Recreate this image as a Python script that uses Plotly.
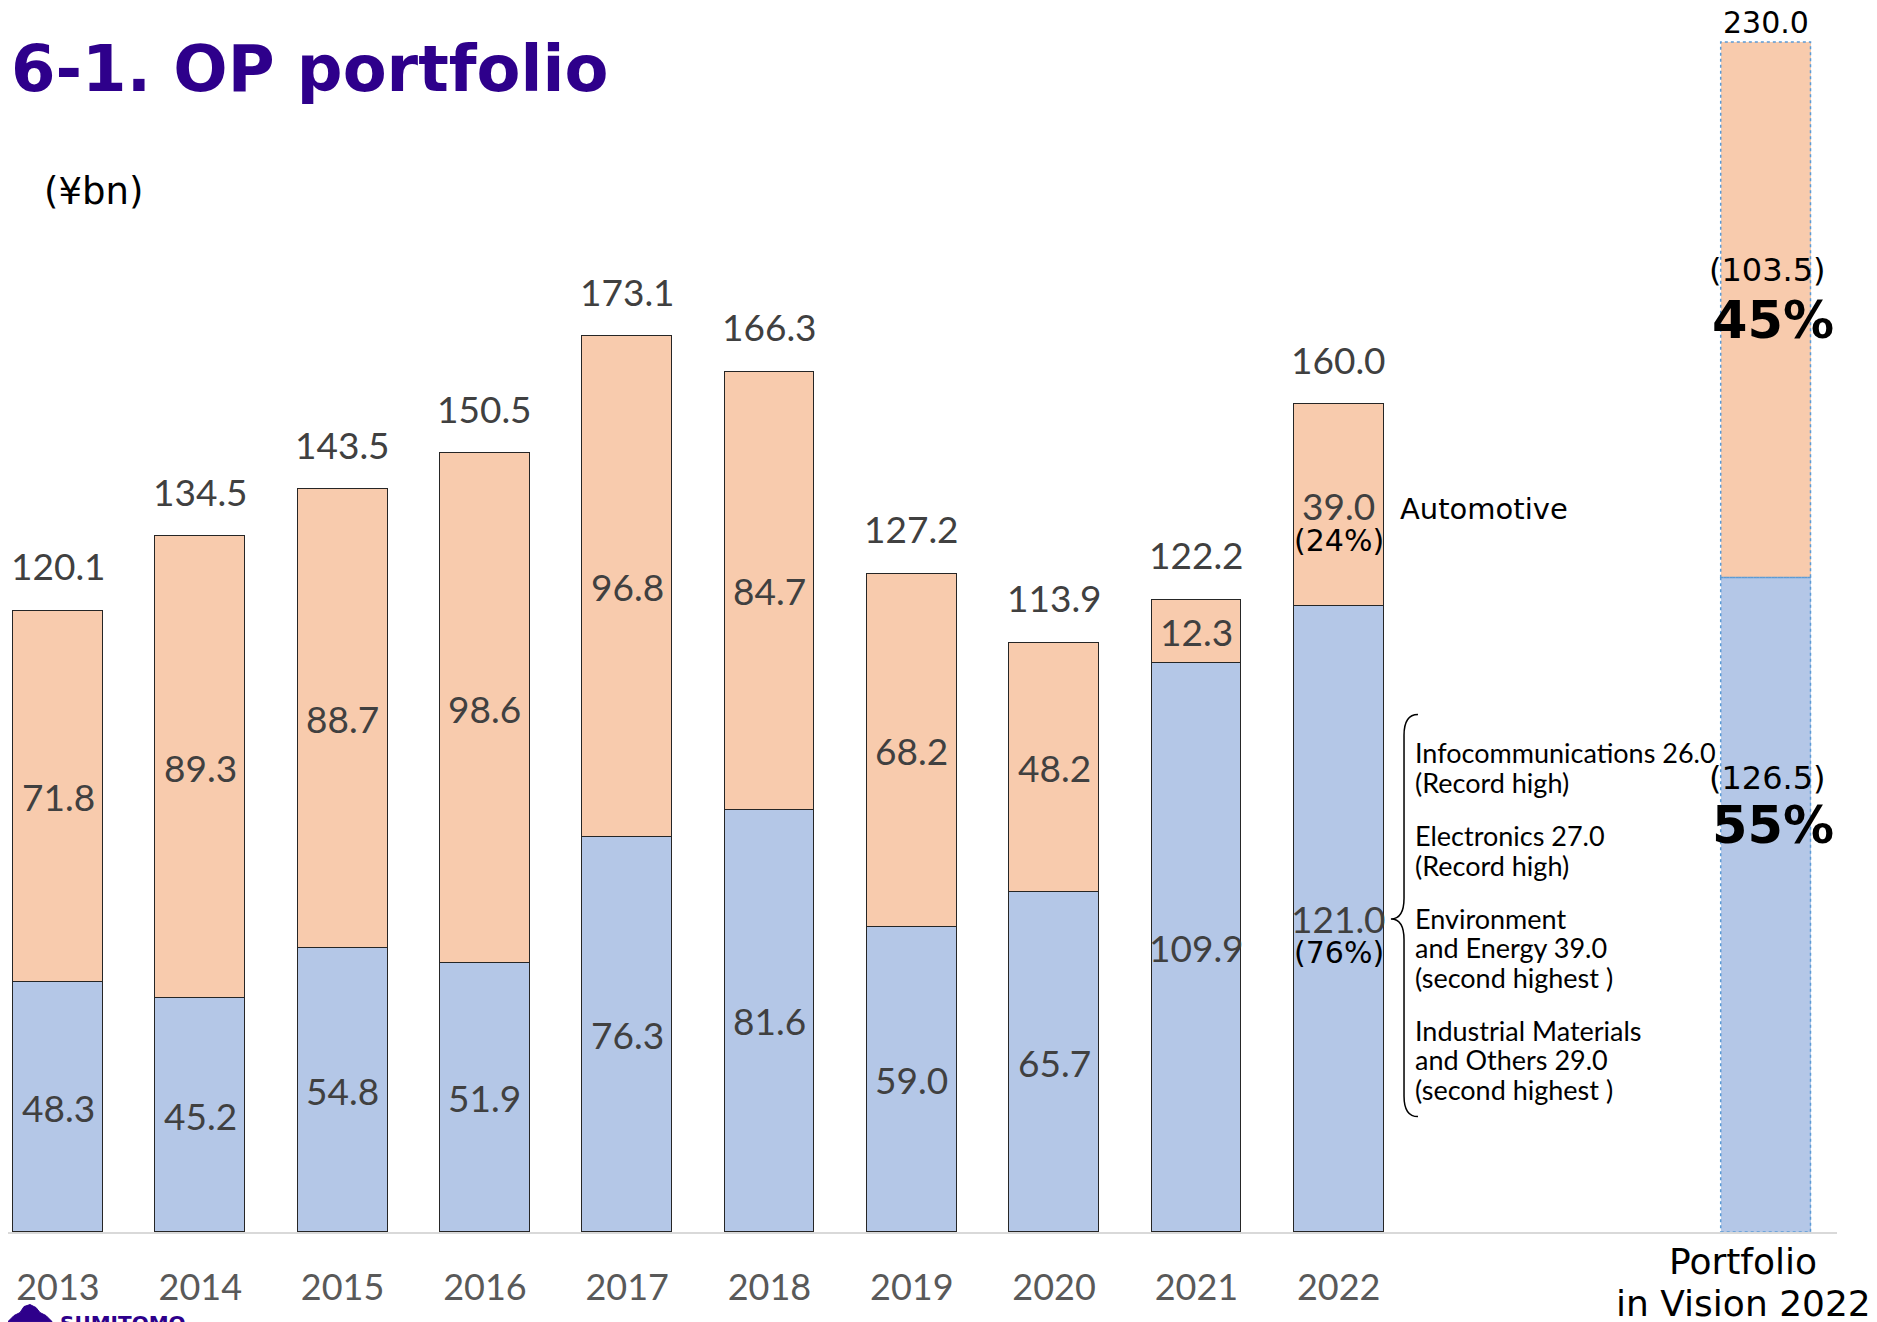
import plotly.graph_objects as go

# ---------------- data ----------------
years = ["2013", "2014", "2015", "2016", "2017", "2018", "2019", "2020", "2021", "2022"]
non_auto = [48.3, 45.2, 54.8, 51.9, 76.3, 81.6, 59.0, 65.7, 109.9, 121.0]
automotive = [71.8, 89.3, 88.7, 98.6, 96.8, 84.7, 68.2, 48.2, 12.3, 39.0]
totals = [120.1, 134.5, 143.5, 150.5, 173.1, 166.3, 127.2, 113.9, 122.2, 160.0]

vision_label = ["Portfolio", "in Vision 2022"]
vision_non_auto = 126.5
vision_auto = 103.5
vision_total = 230.0
vision_pct = ["55%", "45%"]
pct_2022 = ["(76%)", "(24%)"]

breakdown = [
    ["Infocommunications 26.0", "(Record high)"],
    ["Electronics 27.0", "(Record high)"],
    ["Environment", "and Energy 39.0", "(second highest )"],
    ["Industrial Materials", "and Others 29.0", "(second highest )"],
]

# ---------------- geometry helpers ----------------
OFF = 8                      # page body margin of the html page
W, H = 1877 - OFF, 1322 - OFF
BASE = 1232.4 - OFF          # baseline in figure pixels
ML, MR, MT = 0, 40, 0
MB = H - BASE
PW, PH = W - ML - MR, BASE - MT
UNIT = 5.176                 # pixels per ¥bn
STEP = 142.3                 # pixels per category
X0 = 58 - OFF                # figure pixel of category 0


def pxx(x):  # page pixel x -> paper
    return (x - OFF - ML) / PW


def pyy(y):  # page pixel y -> paper
    return (BASE - (y - OFF)) / PH


x_year = list(range(len(years)))
x_vision = 12
bar_w = 0.631

BLUE = "#B4C7E7"
ORANGE = "#F8CBAD"
NUM_FONT = "Lato, 'Noto Sans', sans-serif"
VER_FONT = "'DejaVu Sans', Verdana, sans-serif"
NUM_COL = "#404040"

fig = go.Figure()
fig.add_bar(x=x_year, y=non_auto, width=bar_w, marker=dict(color=BLUE, line=dict(color="#262626", width=1)),
            showlegend=False, hoverinfo="skip")
fig.add_bar(x=x_year, y=automotive, width=bar_w, marker=dict(color=ORANGE, line=dict(color="#262626", width=1)),
            showlegend=False, hoverinfo="skip")
fig.add_bar(x=[x_vision], y=[vision_non_auto], width=bar_w, marker=dict(color=BLUE, line=dict(width=0)),
            showlegend=False, hoverinfo="skip")
fig.add_bar(x=[x_vision], y=[vision_auto], width=bar_w, marker=dict(color=ORANGE, line=dict(width=0)),
            showlegend=False, hoverinfo="skip")

ann = []


def add(**kw):
    kw.setdefault("showarrow", False)
    kw.setdefault("xanchor", "center")
    kw.setdefault("yanchor", "middle")
    ann.append(kw)


# segment labels and totals
for i, yr in enumerate(years):
    add(x=x_year[i], y=non_auto[i] / 2, text=f"{non_auto[i]:.1f}",
        font=dict(family=NUM_FONT, size=37, color=NUM_COL))
    add(x=x_year[i], y=non_auto[i] + automotive[i] / 2, text=f"{automotive[i]:.1f}",
        font=dict(family=NUM_FONT, size=37, color=NUM_COL))
    add(x=x_year[i], y=totals[i], yshift=45, text=f"{totals[i]:.1f}",
        font=dict(family=NUM_FONT, size=37, color=NUM_COL))

# 2022 shares
i22 = len(years) - 1
add(x=x_year[i22], y=non_auto[i22] / 2, yshift=-34, text=pct_2022[0],
    font=dict(family=VER_FONT, size=30, color="black"))
add(x=x_year[i22], y=non_auto[i22] + automotive[i22] / 2, yshift=-35, text=pct_2022[1],
    font=dict(family=VER_FONT, size=30, color="black"))
add(x=x_year[i22] + 0.42, xanchor="left", y=non_auto[i22] + automotive[i22] / 2, yshift=-4,
    text="Automotive", font=dict(family=VER_FONT, size=29, color="black"))

# vision bar labels
add(x=x_vision, y=vision_total, yshift=19, text=f"{vision_total:.1f}",
    font=dict(family=VER_FONT, size=30, color="black"))
o_mid = vision_non_auto + vision_auto / 2
b_mid = vision_non_auto / 2
add(x=x_vision, y=o_mid, yshift=40, xshift=2, text=f"({vision_auto:.1f})",
    font=dict(family=VER_FONT, size=32, color="black"))
add(x=x_vision, y=o_mid, yshift=-11, xshift=7, text=f"<b>{vision_pct[1]}</b>",
    font=dict(family=VER_FONT, size=51, color="black"))
add(x=x_vision, y=b_mid, yshift=127, xshift=2, text=f"({vision_non_auto:.1f})",
    font=dict(family=VER_FONT, size=32, color="black"))
add(x=x_vision, y=b_mid, yshift=79, xshift=7, text=f"<b>{vision_pct[0]}</b>",
    font=dict(family=VER_FONT, size=51, color="black"))

# vision x label
for k, line in enumerate(vision_label):
    add(xref="paper", yref="paper", x=pxx(1743), y=pyy(1262 + 42 * k), text=line,
        font=dict(family=VER_FONT, size=36, color="black"))

# breakdown text
ypos = 753
for g, group in enumerate(breakdown):
    for line in group:
        add(xref="paper", yref="paper", x=pxx(1413), xanchor="left", y=pyy(ypos), text=line,
            font=dict(family=NUM_FONT, size=27, color="black"))
        ypos += 29.6
    ypos += 23.5

# title, unit, logo
add(xref="paper", yref="paper", x=pxx(9), xanchor="left", y=pyy(69), text="<b>6-1. OP portfolio</b>",
    font=dict(family=VER_FONT, size=64, color="#2E008B"))
add(xref="paper", yref="paper", x=pxx(42), xanchor="left", y=pyy(192), text="(¥bn)",
    font=dict(family=VER_FONT, size=37, color="black"))
add(xref="paper", yref="paper", x=pxx(58), xanchor="left", y=pyy(1323), text="<b>SUMITOMO</b>",
    font=dict(family=VER_FONT, size=20, color="#2E008B"))

shapes = []
# dotted outline of vision bar segments
for y0, y1 in [(0, vision_non_auto), (vision_non_auto, vision_non_auto + vision_auto)]:
    shapes.append(dict(type="rect", xref="x", yref="y", x0=x_vision - bar_w / 2, x1=x_vision + bar_w / 2,
                       y0=y0, y1=y1, line=dict(color="#5B9BD5", width=1.5, dash="dot")))

# brace next to the 2022 bar
bx_end, bx_mid, bx_tip = 9.557, 9.459, 9.367
yt, yc, yb = 100.0, non_auto[i22] / 2, 22.3
brace = (f"M {bx_end},{yt} Q {bx_mid},{yt} {bx_mid},{yt-4} L {bx_mid},{yc+4} "
         f"Q {bx_mid},{yc} {bx_tip},{yc} Q {bx_mid},{yc} {bx_mid},{yc-4} "
         f"L {bx_mid},{yb+4} Q {bx_mid},{yb} {bx_end},{yb}")
shapes.append(dict(type="path", xref="x", yref="y", path=brace, line=dict(color="black", width=1.5)))

# logo mountain icon
pts = [(8, 1322), (14, 1316), (20, 1313), (24, 1307), (30, 1305), (36, 1308), (40, 1313), (46, 1316), (52, 1322)]
logo = "M " + " L ".join(f"{pxx(a)},{pyy(b)}" for a, b in pts) + " Z"
shapes.append(dict(type="path", xref="paper", yref="paper", path=logo, fillcolor="#2E008B",
                   line=dict(color="#2E008B", width=1)))

ymax = PH / UNIT
fig.update_layout(
    width=W, height=H, barmode="stack", bargap=0,
    margin=dict(l=ML, r=MR, t=MT, b=MB, autoexpand=False),
    paper_bgcolor="white", plot_bgcolor="white",
    annotations=ann, shapes=shapes,
    xaxis=dict(range=[-X0 / STEP, (PW - X0) / STEP], tickmode="array", tickvals=x_year, ticktext=years,
               tickfont=dict(family=NUM_FONT, size=36, color="#595959"), showgrid=False, zeroline=False,
               showline=True, linecolor="#D9D9D9", linewidth=2, ticks="outside", ticklen=23,
               tickcolor="rgba(0,0,0,0)", automargin=False),
    yaxis=dict(range=[0, ymax], visible=False),
)
fig.write_html("out.html")
